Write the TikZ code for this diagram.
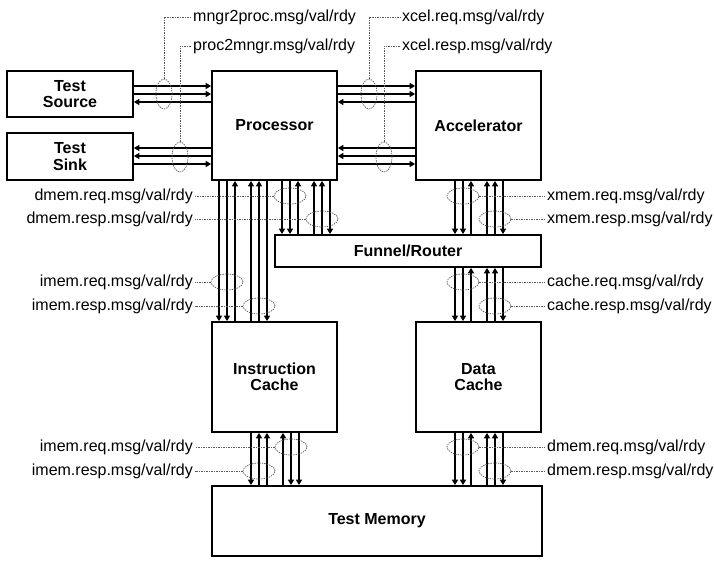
\documentclass[tikz,border=0pt]{standalone}
\usepackage{fontspec}
\setmainfont{Liberation Sans}
\usetikzlibrary{shapes.geometric,arrows.meta}

\begin{document}
\begin{tikzpicture}
      [x=1pt,y=-1pt,
       every node/.style={font=\fontsize{16}{16.5}\selectfont,inner sep=2pt},
       block/.style={draw=black,line width=1.7pt,inner sep=0pt,align=center,font=\fontsize{16}{16.5}\selectfont\bfseries},
       sig/.style={-{Triangle[length=5.5pt,width=6pt]},line width=1.3pt},
       bundle/.style={draw=black!65,ellipse,dash pattern=on 1.5pt off 1pt,line width=0.7pt,inner sep=0pt},
       lead/.style={draw=black!65,dash pattern=on 1.5pt off 1pt,line width=0.7pt}]
      \useasboundingbox (0,0) rectangle (714,565);

      % blocks
      \node[block,minimum width=126,minimum height=46] (src) at (70,94) {Test\\Source};
      \node[block,minimum width=126,minimum height=47] (sink) at (70,156.5) {Test\\Sink};
      \node[block,minimum width=125,minimum height=109] (proc) at (274.5,125.5) {Processor};
      \node[block,minimum width=125,minimum height=109] (accel) at (478.5,125.5) {Accelerator};
      \node[block,minimum width=266,minimum height=32] (funnel) at (408,251) {Funnel/Router};
      \node[block,minimum width=125,minimum height=110] (icache) at (274.5,377) {Instruction\\Cache};
      \node[block,minimum width=125,minimum height=110] (dcache) at (478.5,377) {Data\\Cache};
      \node[block,minimum width=330,minimum height=70] (mem) at (377,521) {Test Memory};

      % source/sink <-> processor
      \draw[sig] (src.east |- 0,86) -- (proc.west |- 0,86);
      \draw[sig] (src.east |- 0,94) -- (proc.west |- 0,94);
      \draw[sig] (proc.west |- 0,102) -- (src.east |- 0,102);
      \draw[sig] (proc.west |- 0,148) -- (sink.east |- 0,148);
      \draw[sig] (proc.west |- 0,156) -- (sink.east |- 0,156);
      \draw[sig] (sink.east |- 0,164) -- (proc.west |- 0,164);

      % processor <-> accelerator
      \draw[sig] (proc.east |- 0,86) -- (accel.west |- 0,86);
      \draw[sig] (proc.east |- 0,94) -- (accel.west |- 0,94);
      \draw[sig] (accel.west |- 0,102) -- (proc.east |- 0,102);
      \draw[sig] (accel.west |- 0,148) -- (proc.east |- 0,148);
      \draw[sig] (accel.west |- 0,156) -- (proc.east |- 0,156);
      \draw[sig] (proc.east |- 0,164) -- (accel.west |- 0,164);

      % processor <-> instruction cache
      \draw[sig] (proc.south -| 219,0) -- (icache.north -| 219,0);
      \draw[sig] (proc.south -| 227,0) -- (icache.north -| 227,0);
      \draw[sig] (icache.north -| 235,0) -- (proc.south -| 235,0);
      \draw[sig] (icache.north -| 251,0) -- (proc.south -| 251,0);
      \draw[sig] (icache.north -| 259,0) -- (proc.south -| 259,0);
      \draw[sig] (proc.south -| 267,0) -- (icache.north -| 267,0);

      % processor <-> funnel
      \draw[sig] (proc.south -| 282,0) -- (funnel.north -| 282,0);
      \draw[sig] (proc.south -| 290,0) -- (funnel.north -| 290,0);
      \draw[sig] (funnel.north -| 298,0) -- (proc.south -| 298,0);
      \draw[sig] (funnel.north -| 314,0) -- (proc.south -| 314,0);
      \draw[sig] (funnel.north -| 322,0) -- (proc.south -| 322,0);
      \draw[sig] (proc.south -| 330,0) -- (funnel.north -| 330,0);

      % accelerator <-> funnel
      \draw[sig] (accel.south -| 455,0) -- (funnel.north -| 455,0);
      \draw[sig] (accel.south -| 463,0) -- (funnel.north -| 463,0);
      \draw[sig] (funnel.north -| 471,0) -- (accel.south -| 471,0);
      \draw[sig] (funnel.north -| 487,0) -- (accel.south -| 487,0);
      \draw[sig] (funnel.north -| 495,0) -- (accel.south -| 495,0);
      \draw[sig] (accel.south -| 503,0) -- (funnel.north -| 503,0);

      % funnel <-> data cache
      \draw[sig] (funnel.south -| 455,0) -- (dcache.north -| 455,0);
      \draw[sig] (funnel.south -| 463,0) -- (dcache.north -| 463,0);
      \draw[sig] (dcache.north -| 471,0) -- (funnel.south -| 471,0);
      \draw[sig] (dcache.north -| 487,0) -- (funnel.south -| 487,0);
      \draw[sig] (dcache.north -| 495,0) -- (funnel.south -| 495,0);
      \draw[sig] (funnel.south -| 503,0) -- (dcache.north -| 503,0);

      % instruction cache <-> test memory
      \draw[sig] (icache.south -| 251,0) -- (mem.north -| 251,0);
      \draw[sig] (mem.north -| 259,0) -- (icache.south -| 259,0);
      \draw[sig] (mem.north -| 267,0) -- (icache.south -| 267,0);
      \draw[sig] (mem.north -| 283,0) -- (icache.south -| 283,0);
      \draw[sig] (icache.south -| 291,0) -- (mem.north -| 291,0);
      \draw[sig] (icache.south -| 299,0) -- (mem.north -| 299,0);

      % data cache <-> test memory
      \draw[sig] (dcache.south -| 455,0) -- (mem.north -| 455,0);
      \draw[sig] (dcache.south -| 463,0) -- (mem.north -| 463,0);
      \draw[sig] (mem.north -| 471,0) -- (dcache.south -| 471,0);
      \draw[sig] (mem.north -| 487,0) -- (dcache.south -| 487,0);
      \draw[sig] (mem.north -| 495,0) -- (dcache.south -| 495,0);
      \draw[sig] (dcache.south -| 503,0) -- (mem.north -| 503,0);

      % bundles and labels, top
      \node[bundle,minimum width=16,minimum height=30] (b_m2p) at (164,94) {};
      \node[bundle,minimum width=16,minimum height=30] (b_p2m) at (180,157) {};
      \node[bundle,minimum width=16,minimum height=30] (b_xreq) at (369,94) {};
      \node[bundle,minimum width=16,minimum height=30] (b_xresp) at (384,157) {};
      \node[anchor=west] (l_m2p) at (191,17) {mngr2proc.msg/val/rdy};
      \node[anchor=west] (l_p2m) at (191,46) {proc2mngr.msg/val/rdy};
      \node[anchor=west] (l_xreq) at (400,17) {xcel.req.msg/val/rdy};
      \node[anchor=west] (l_xresp) at (400,46) {xcel.resp.msg/val/rdy};
      \draw[lead] (b_m2p.north) |- (l_m2p.west);
      \draw[lead] (b_p2m.north) |- (l_p2m.west);
      \draw[lead] (b_xreq.north) |- (l_xreq.west);
      \draw[lead] (b_xresp.north) |- (l_xresp.west);

      % bundles and labels, left
      \node[bundle,minimum width=32,minimum height=16] (b_dreq) at (290,196) {};
      \node[bundle,minimum width=32,minimum height=16] (b_dresp) at (322,219) {};
      \node[bundle,minimum width=32,minimum height=16] (b_ireq) at (227,282) {};
      \node[bundle,minimum width=32,minimum height=16] (b_iresp) at (259,306) {};
      \node[bundle,minimum width=32,minimum height=16] (b_mireq) at (291,447) {};
      \node[bundle,minimum width=32,minimum height=16] (b_miresp) at (259,471) {};
      \node[anchor=east] (l_dreq) at (195,196) {dmem.req.msg/val/rdy};
      \node[anchor=east] (l_dresp) at (195,219) {dmem.resp.msg/val/rdy};
      \node[anchor=east] (l_ireq) at (195,282) {imem.req.msg/val/rdy};
      \node[anchor=east] (l_iresp) at (195,306) {imem.resp.msg/val/rdy};
      \node[anchor=east] (l_mireq) at (195,447) {imem.req.msg/val/rdy};
      \node[anchor=east] (l_miresp) at (195,471) {imem.resp.msg/val/rdy};
      \draw[lead] (b_dreq.west) -- (l_dreq.east);
      \draw[lead] (b_dresp.west) -- (l_dresp.east);
      \draw[lead] (b_ireq.west) -- (l_ireq.east);
      \draw[lead] (b_iresp.west) -- (l_iresp.east);
      \draw[lead] (b_mireq.west) -- (l_mireq.east);
      \draw[lead] (b_miresp.west) -- (l_miresp.east);

      % bundles and labels, right
      \node[bundle,minimum width=32,minimum height=16] (b_xmreq) at (463,196) {};
      \node[bundle,minimum width=32,minimum height=16] (b_xmresp) at (495,219) {};
      \node[bundle,minimum width=32,minimum height=16] (b_creq) at (463,282) {};
      \node[bundle,minimum width=32,minimum height=16] (b_cresp) at (495,306) {};
      \node[bundle,minimum width=32,minimum height=16] (b_mdreq) at (463,447) {};
      \node[bundle,minimum width=32,minimum height=16] (b_mdresp) at (495,471) {};
      \node[anchor=west] (l_xmreq) at (545,196) {xmem.req.msg/val/rdy};
      \node[anchor=west] (l_xmresp) at (545,219) {xmem.resp.msg/val/rdy};
      \node[anchor=west] (l_creq) at (545,282) {cache.req.msg/val/rdy};
      \node[anchor=west] (l_cresp) at (545,306) {cache.resp.msg/val/rdy};
      \node[anchor=west] (l_mdreq) at (545,447) {dmem.req.msg/val/rdy};
      \node[anchor=west] (l_mdresp) at (545,471) {dmem.resp.msg/val/rdy};
      \draw[lead] (b_xmreq.east) -- (l_xmreq.west);
      \draw[lead] (b_xmresp.east) -- (l_xmresp.west);
      \draw[lead] (b_creq.east) -- (l_creq.west);
      \draw[lead] (b_cresp.east) -- (l_cresp.west);
      \draw[lead] (b_mdreq.east) -- (l_mdreq.west);
      \draw[lead] (b_mdresp.east) -- (l_mdresp.west);
    \end{tikzpicture}
\end{document}
